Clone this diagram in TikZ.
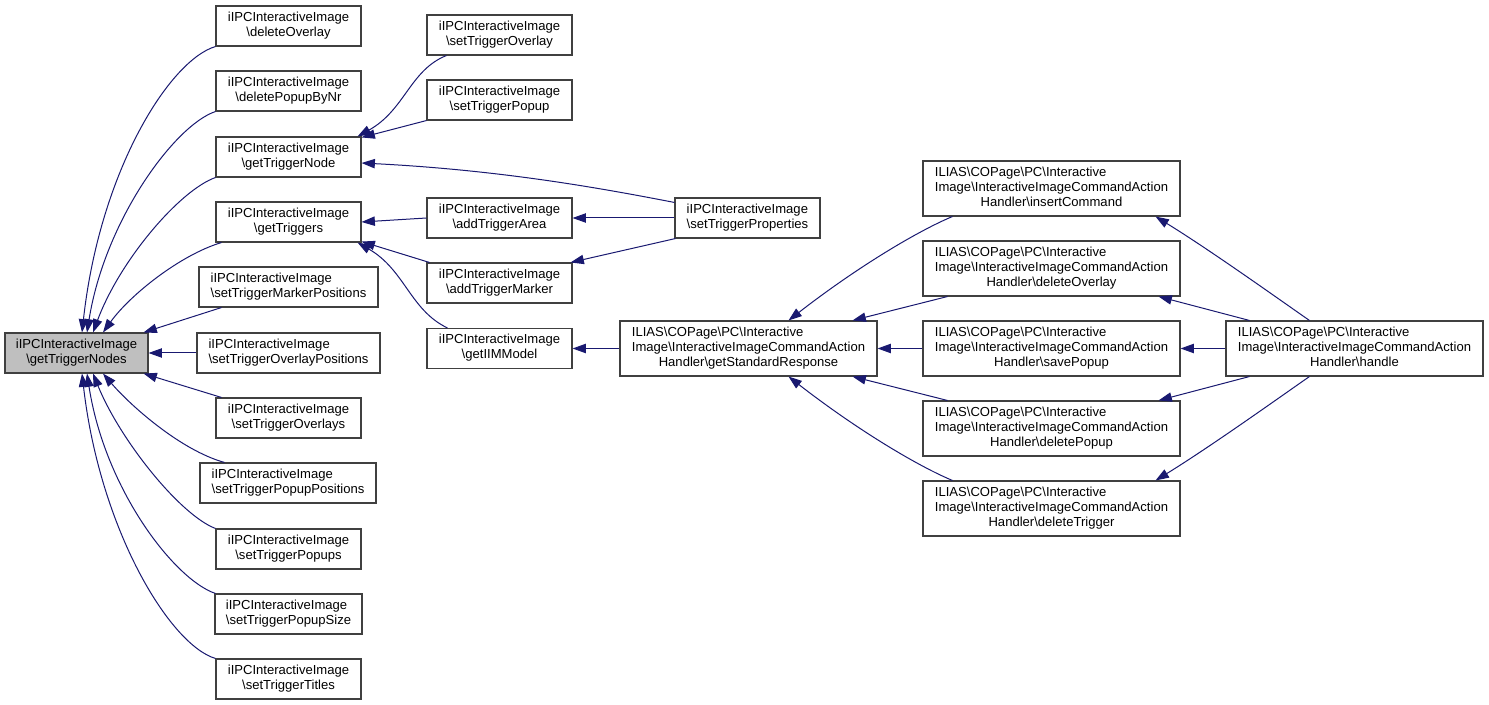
\documentclass[tikz,border=0pt]{standalone}
\usepackage{fontspec}
\setmainfont{Liberation Sans}
\usetikzlibrary{arrows.meta,calc}
\definecolor{edgec}{HTML}{191970}
\definecolor{hlfill}{HTML}{BFBFBF}
\definecolor{boxline}{HTML}{404040}
\newcommand{\bksl}{\textbackslash}
\newcommand{\lbl}[2]{\begin{tabular}{@{}l@{}}#1\multicolumn{1}{@{}c@{}}{#2}\end{tabular}}
\tikzset{
  box/.style={draw=boxline, line width=0.8pt, inner sep=0pt, fill=white,
    font=\fontsize{9.8}{11.25}\selectfont},
  bw/.style={minimum width=#1*0.75pt},
  bh/.style={minimum height=#1*0.75pt},
  hl/.style={fill=hlfill},
  edge/.style={draw=edgec, line width=0.75pt, -{Triangle[length=10pt,width=7pt]}},
}
\begin{document}
\begin{tikzpicture}[x=0.75pt,y=-0.75pt]
\useasboundingbox (0,0) rectangle (1489,705);
% column 1
\node[box,hl,bw=143,bh=40] (gtn) at (76.5,353) {\lbl{iIPCInteractiveImage\\}{\bksl getTriggerNodes}};
% column 2
\node[box,bw=145,bh=40] (delOv) at (288.5,26) {\lbl{iIPCInteractiveImage\\}{\bksl deleteOverlay}};
\node[box,bw=145,bh=40] (delPop) at (288.5,91) {\lbl{iIPCInteractiveImage\\}{\bksl deletePopupByNr}};
\node[box,bw=145,bh=40] (getTN) at (288.5,157) {\lbl{iIPCInteractiveImage\\}{\bksl getTriggerNode}};
\node[box,bw=145,bh=40] (getTs) at (288.5,222) {\lbl{iIPCInteractiveImage\\}{\bksl getTriggers}};
\node[box,bw=179,bh=40] (setTMP) at (288.5,287) {\lbl{iIPCInteractiveImage\\}{\bksl setTriggerMarkerPositions}};
\node[box,bw=183,bh=40] (setTOP) at (288.5,353) {\lbl{iIPCInteractiveImage\\}{\bksl setTriggerOverlayPositions}};
\node[box,bw=145,bh=40] (setTO) at (288.5,418) {\lbl{iIPCInteractiveImage\\}{\bksl setTriggerOverlays}};
\node[box,bw=176,bh=40] (setTPP) at (288,483) {\lbl{iIPCInteractiveImage\\}{\bksl setTriggerPopupPositions}};
\node[box,bw=145,bh=40] (setTPs) at (288.5,549) {\lbl{iIPCInteractiveImage\\}{\bksl setTriggerPopups}};
\node[box,bw=147,bh=40] (setTPS) at (288.5,614) {\lbl{iIPCInteractiveImage\\}{\bksl setTriggerPopupSize}};
\node[box,bw=145,bh=40] (setTT) at (288.5,679) {\lbl{iIPCInteractiveImage\\}{\bksl setTriggerTitles}};
% column 3
\node[box,bw=145,bh=40] (setTOv) at (499.5,35) {\lbl{iIPCInteractiveImage\\}{\bksl setTriggerOverlay}};
\node[box,bw=145,bh=40] (setTPop) at (499.5,100) {\lbl{iIPCInteractiveImage\\}{\bksl setTriggerPopup}};
\node[box,bw=145,bh=40] (addTA) at (499.5,218) {\lbl{iIPCInteractiveImage\\}{\bksl addTriggerArea}};
\node[box,bw=145,bh=40] (addTM) at (499.5,283) {\lbl{iIPCInteractiveImage\\}{\bksl addTriggerMarker}};
\node[box,bw=145,bh=40] (getIIM) at (499.5,348.5) {\lbl{iIPCInteractiveImage\\}{\bksl getIIMModel}};
% column 4
\node[box,bw=145,bh=40] (setTPr) at (747.5,218) {\lbl{iIPCInteractiveImage\\}{\bksl setTriggerProperties}};
\node[box,bw=257,bh=55] (gSR) at (748.5,348.5) {\lbl{ILIAS\bksl COPage\bksl PC\bksl Interactive\\Image\bksl InteractiveImageCommandAction\\}{Handler\bksl getStandardResponse}};
% column 5
\node[box,bw=257,bh=55] (insC) at (1051.5,188.5) {\lbl{ILIAS\bksl COPage\bksl PC\bksl Interactive\\Image\bksl InteractiveImageCommandAction\\}{Handler\bksl insertCommand}};
\node[box,bw=257,bh=55] (delOv2) at (1051.5,268.5) {\lbl{ILIAS\bksl COPage\bksl PC\bksl Interactive\\Image\bksl InteractiveImageCommandAction\\}{Handler\bksl deleteOverlay}};
\node[box,bw=257,bh=55] (saveP) at (1051.5,348.5) {\lbl{ILIAS\bksl COPage\bksl PC\bksl Interactive\\Image\bksl InteractiveImageCommandAction\\}{Handler\bksl savePopup}};
\node[box,bw=257,bh=55] (delP) at (1051.5,428.5) {\lbl{ILIAS\bksl COPage\bksl PC\bksl Interactive\\Image\bksl InteractiveImageCommandAction\\}{Handler\bksl deletePopup}};
\node[box,bw=257,bh=55] (delT) at (1051.5,508.5) {\lbl{ILIAS\bksl COPage\bksl PC\bksl Interactive\\Image\bksl InteractiveImageCommandAction\\}{Handler\bksl deleteTrigger}};
% column 6
\node[box,bw=257,bh=55] (handle) at (1354.5,348.5) {\lbl{ILIAS\bksl COPage\bksl PC\bksl Interactive\\Image\bksl InteractiveImageCommandAction\\}{Handler\bksl handle}};

% edges into getTriggerNodes
\draw[edge] (delOv.south west) .. controls (170,60) and (100,170) .. ($(gtn.north)+(5.5,0)$);
\draw[edge] (delPop.south west) .. controls (175,125) and (105,220) .. ($(gtn.north)+(10.5,0)$);
\draw[edge] (getTN.south west) .. controls (180,190) and (120,260) .. ($(gtn.north)+(16.5,0)$);
\draw[edge] ($(getTs.south west)+(6,0)$) .. controls (180,255) and (130,295) .. ($(gtn.north)+(26.5,0)$);
\draw[edge] ($(setTMP.south west)+(23,0)$) -- ($(gtn.north east)+(-5,0)$);
\draw[edge] (setTOP.west) -- (gtn.east);
\draw[edge] ($(setTO.north west)+(6,0)$) -- ($(gtn.south east)+(-5,0)$);
\draw[edge] ($(setTPP.north west)+(25,0)$) .. controls (180,450) and (130,405) .. ($(gtn.south)+(26.5,0)$);
\draw[edge] (setTPs.north west) .. controls (180,515) and (120,440) .. ($(gtn.south)+(16.5,0)$);
\draw[edge] ($(setTPS.north west)+(1,0)$) .. controls (175,580) and (105,490) .. ($(gtn.south)+(10.5,0)$);
\draw[edge] (setTT.north west) .. controls (170,645) and (100,530) .. ($(gtn.south)+(5.5,0)$);
% column 3 to column 2
\draw[edge] ($(setTOv.south west)+(20,0)$) .. controls (410,70) and (405,110) .. ($(getTN.north east)+(-4,0)$);
\draw[edge] (setTPop.south west) -- ($(getTN.north east)+(0,1)$);
\draw[edge] ($(setTPr.north west)+(0,5)$) .. controls (600,188) and (500,170) .. ($(getTN.east)+(0,6)$);
\draw[edge] (addTA.west) -- (getTs.east);
\draw[edge] ($(addTM.north west)+(3,0)$) -- ($(getTs.south east)+(0,-1)$);
\draw[edge] ($(getIIM.north west)+(21,0)$) .. controls (410,310) and (405,270) .. ($(getTs.south east)+(-4,0)$);
% column 4 to column 3
\draw[edge] (setTPr.west) -- (addTA.east);
\draw[edge] ($(setTPr.south west)+(1,0)$) -- ($(addTM.north east)+(-2,0)$);
\draw[edge] (gSR.west) -- (getIIM.east);
% column 5 to gSR
\draw[edge] ($(insC.south west)+(30,0)$) .. controls (920,230) and (860,265) .. ($(gSR.north)+(40,0)$);
\draw[edge] ($(delOv2.south west)+(25,0)$) -- ($(gSR.north east)+(-25,0)$);
\draw[edge] (saveP.west) -- (gSR.east);
\draw[edge] ($(delP.north west)+(25,0)$) -- ($(gSR.south east)+(-25,0)$);
\draw[edge] ($(delT.north west)+(30,0)$) .. controls (920,467) and (860,432) .. ($(gSR.south)+(40,0)$);
% handle to column 5
\draw[edge] ($(handle.north west)+(84,0)$) .. controls (1280,300) and (1210,250) .. ($(insC.south east)+(-25,0)$);
\draw[edge] ($(handle.north west)+(24,0)$) -- ($(delOv2.south east)+(-22,0)$);
\draw[edge] (handle.west) -- (saveP.east);
\draw[edge] ($(handle.south west)+(24,0)$) -- ($(delP.north east)+(-22,0)$);
\draw[edge] ($(handle.south west)+(84,0)$) .. controls (1280,397) and (1210,447) .. ($(delT.north east)+(-25,0)$);
\end{tikzpicture}
\end{document}
